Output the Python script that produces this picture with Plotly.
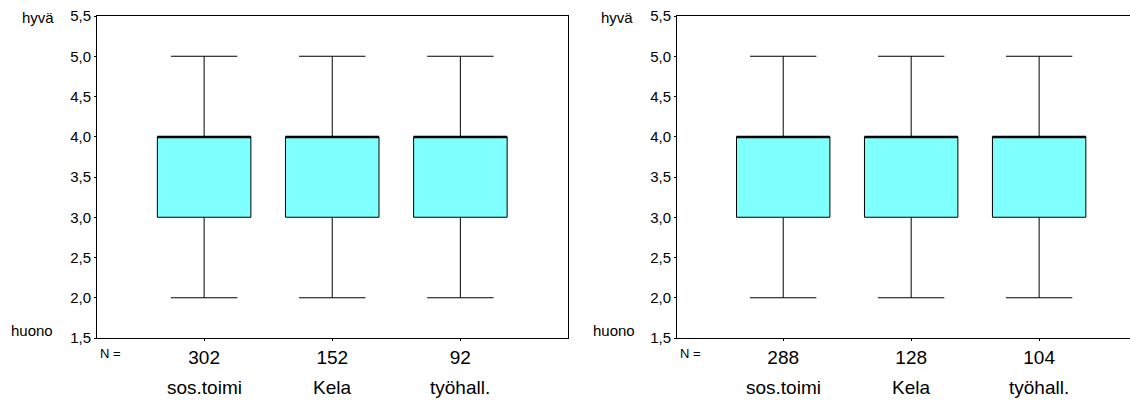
import plotly.graph_objects as go

categories = ["sos.toimi", "Kela", "työhall."]
n_left = [302, 152, 92]
n_right = [288, 128, 104]
q1_left = [3.0, 3.0, 3.0]
med_left = [4.0, 4.0, 4.0]
q3_left = [4.0, 4.0, 4.0]
low_left = [2.0, 2.0, 2.0]
up_left = [5.0, 5.0, 5.0]
q1_right = [3.0, 3.0, 3.0]
med_right = [4.0, 4.0, 4.0]
q3_right = [4.0, 4.0, 4.0]
low_right = [2.0, 2.0, 2.0]
up_right = [5.0, 5.0, 5.0]
y_ticks = [1.5, 2.0, 2.5, 3.0, 3.5, 4.0, 4.5, 5.0, 5.5]
y_ticktext = ["1,5", "2,0", "2,5", "3,0", "3,5", "4,0", "4,5", "5,0", "5,5"]

FILL = "#80FFFF"
FONT = "Liberation Sans, Arial, sans-serif"
BW = 0.73

fig = go.Figure()
xpos = list(range(len(categories)))

panels = [
    ("x", "y", q1_left, med_left, q3_left, low_left, up_left, n_left),
    ("x2", "y2", q1_right, med_right, q3_right, low_right, up_right, n_right),
]
for xa, ya, q1, med, q3, lo, up, n in panels:
    fig.add_trace(go.Box(
        x=xpos, q1=q1, median=med, q3=q3, lowerfence=lo, upperfence=up,
        xaxis=xa, yaxis=ya, fillcolor=FILL, width=BW, whiskerwidth=0.71,
        line=dict(color="black", width=1), boxpoints=False, showlegend=False,
        hoverinfo="skip",
    ))
    for i, m in enumerate(med):
        fig.add_trace(go.Scatter(
            x=[i - BW / 2, i + BW / 2], y=[m, m], mode="lines",
            line=dict(color="black", width=2.2), xaxis=xa, yaxis=ya,
            showlegend=False, hoverinfo="skip",
        ))

ydom = [1 - 338 / 401, 1 - 16 / 401]
axis_common = dict(showgrid=False, zeroline=False, linecolor="black", linewidth=1,
                   ticks="outside", ticklen=2, tickcolor="black", automargin=False,
                   tickfont=dict(family=FONT, size=19, color="black"))
yaxis_common = dict(showgrid=False, zeroline=False, linecolor="black", linewidth=1,
                    showline=True, ticks="outside", ticklen=2, tickcolor="black",
                    tickvals=y_ticks, ticktext=y_ticktext, range=[1.5, 5.5], automargin=False,
                    tickfont=dict(family=FONT, size=15, color="black"))

fig.update_layout(
    width=1130, height=401, margin=dict(l=0, r=0, t=0, b=0, autoexpand=False),
    plot_bgcolor="white", paper_bgcolor="white",
    xaxis=dict(domain=[97 / 1130, 568 / 1130], range=[-0.836, 2.84], showline=True, mirror=True,
               tickvals=xpos, ticktext=[str(v) for v in n_left], anchor="y", **axis_common),
    yaxis=dict(domain=ydom, anchor="x", mirror=True, **yaxis_common),
    xaxis2=dict(domain=[677 / 1130, 1.0], range=[-0.83, 2.71], showline=True, mirror=True,
                tickvals=xpos, ticktext=[str(v) for v in n_right], anchor="y2", **axis_common),
    yaxis2=dict(domain=ydom, anchor="x2", **yaxis_common),
)

ann_font = dict(family=FONT, size=15, color="black")
annotations = []
base = dict(showarrow=False, xanchor="center", yanchor="middle")
for xa, hx, hux, nx in [("x", 38, 32, 110), ("x2", 617, 614, 690)]:
    annotations.append(dict(x=hx / 1130, y=1 - 18 / 401, xref="paper", yref="paper",
                            text="hyvä", font=ann_font, **base))
    annotations.append(dict(x=hux / 1130, y=1 - 330 / 401, xref="paper", yref="paper",
                            text="huono", font=ann_font, **base))
    annotations.append(dict(x=nx / 1130, y=1 - 353 / 401, xref="paper", yref="paper",
                            text="N =", font=dict(family=FONT, size=13, color="black"), **base))
    for i, c in enumerate(categories):
        annotations.append(dict(x=i, y=1 - 387 / 401, xref=xa, yref="paper", text=c,
                                font=dict(family=FONT, size=19, color="black"), **base))
fig.update_layout(annotations=annotations)

fig.write_html("out.html", config={"displayModeBar": False},
               post_script="document.body.style.margin='0';document.body.style.overflow='hidden';")
